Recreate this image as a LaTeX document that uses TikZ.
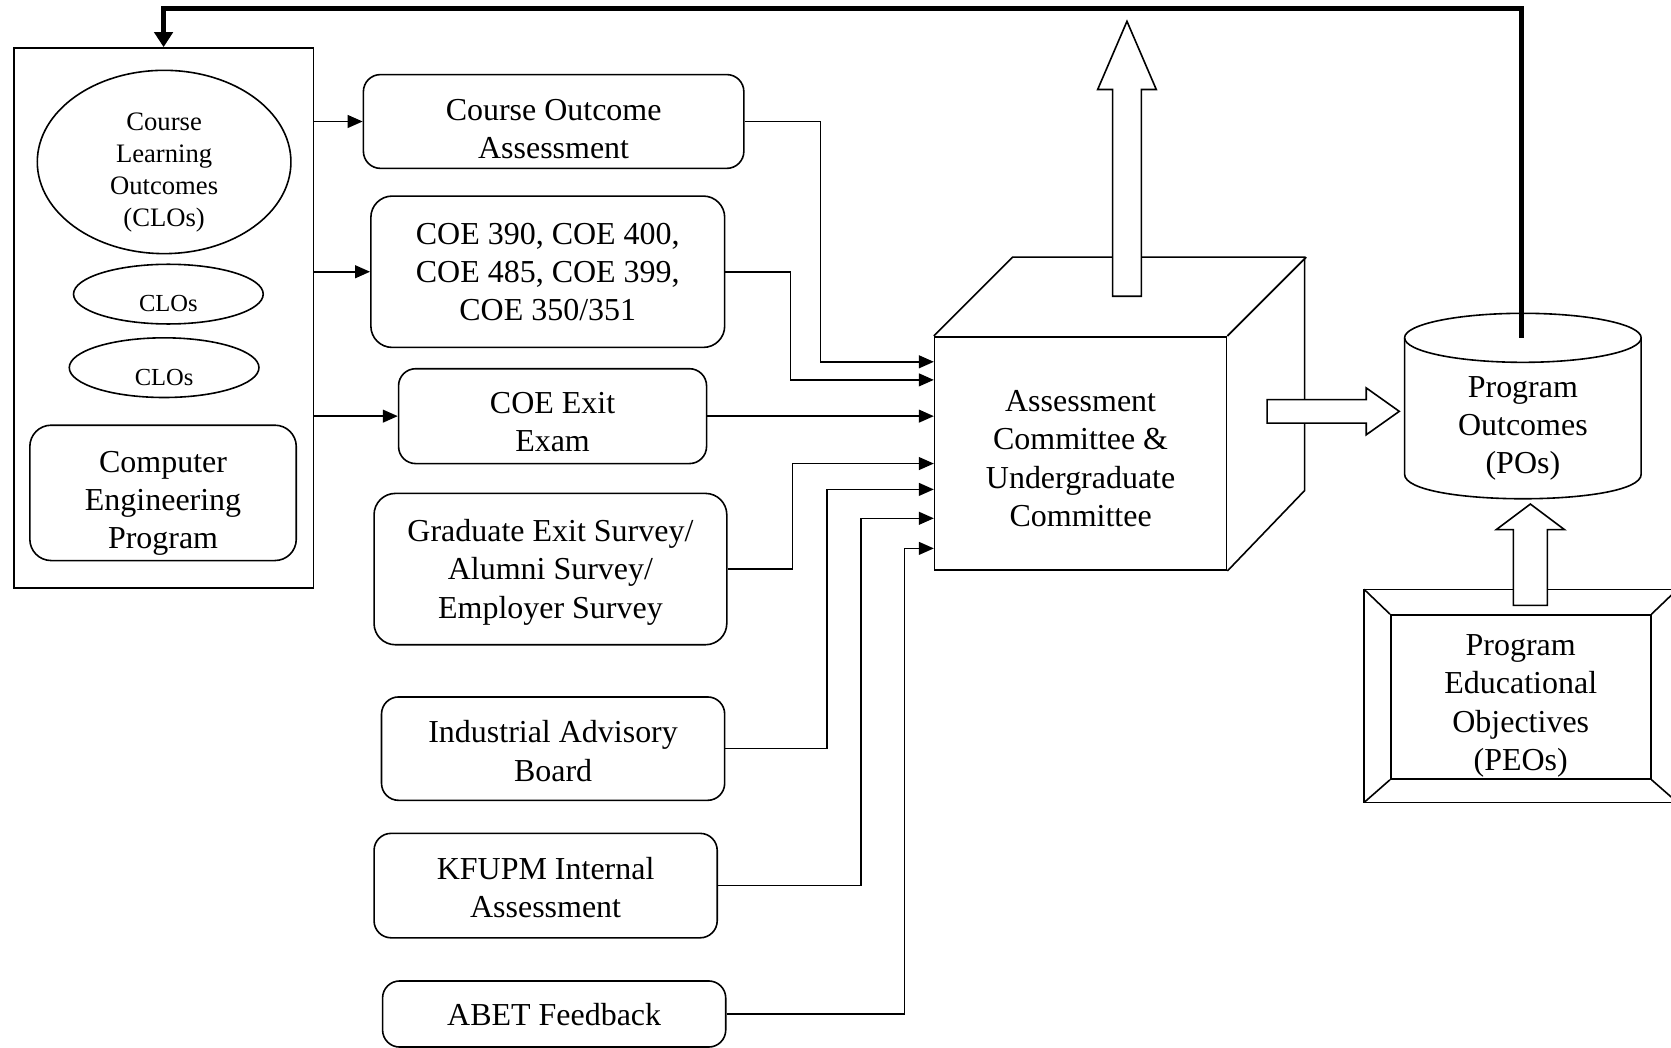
\documentclass[tikz,border=0pt]{standalone}
\usepackage{fontspec}
\setmainfont{Liberation Serif}
\usetikzlibrary{arrows.meta,shapes.geometric,calc}
\newcommand\diagmain{\fontsize{15}{18}\selectfont}
\newcommand\diagsmall{\fontsize{12.5}{15}\selectfont}
\newcommand\diagtiny{\fontsize{11.5}{14}\selectfont}
\newcommand\dgtop[1]{\rule{0pt}{#1pt}}
\newcommand\dgbot[1]{\rule[-#1pt]{0pt}{#1pt}}
\begin{document}
\begin{tikzpicture}[x=0.5pt,y=-0.5pt,line width=0.75pt,
  box/.style={draw, rounded corners=8pt, align=center, inner sep=0pt, font=\diagmain},
  plain/.style={draw, inner sep=0pt, align=center, font=\diagmain},
  cloell/.style={draw, ellipse, inner sep=0pt, font=\diagtiny, text height=16.5pt, text depth=0pt},
  arr/.style={-{Triangle[length=7pt,width=6pt]}},
  fb/.style={line width=2.2pt, -{Triangle[length=7pt,width=8.5pt]}},
  blockarrow/.style={draw, fill=white, line join=miter}]
\useasboundingbox (0,0) rectangle (1568,983);

% left program box
\node[draw, minimum width=140.5pt, minimum height=253.5pt, inner sep=0pt] (lbox) at (153.5,298.5) {};
\node[draw, ellipse, minimum width=119pt, minimum height=86pt, inner sep=-5pt, align=center, font=\diagsmall] (clo) at (154,152) {\dgtop{18.7}Course\\Learning\\Outcomes\\(CLOs)\dgbot{3.5}};
\node[cloell, minimum width=89pt, minimum height=28pt] (clo2) at (158,276) {CLOs};
\node[cloell, minimum width=89pt, minimum height=28pt] (clo3) at (154,345) {CLOs};
\node[box, minimum width=125pt, minimum height=63.5pt, rounded corners=10pt] (cep) at (153,462.5) {\dgtop{20.5}Computer\\Engineering\\Program\dgbot{4}};

% input boxes
\node[box, minimum width=178.5pt, minimum height=44pt] (b1) at (519.5,114) {\dgtop{21}Course Outcome\\Assessment\dgbot{4}};
\node[box, minimum width=166pt, minimum height=71pt, rounded corners=10pt] (b2) at (514,255) {\dgtop{14}COE 390, COE 400,\\COE 485, COE 399,\\COE 350/351\dgbot{4}};
\node[box, minimum width=144.5pt, minimum height=44.5pt] (b3) at (518.5,390.5) {\dgtop{19.5}COE Exit\\Exam\dgbot{4}};
\node[box, minimum width=165.5pt, minimum height=71pt, rounded corners=10pt] (b4) at (516.5,534) {\dgtop{14}Graduate Exit Survey/\\Alumni Survey/\\Employer Survey\dgbot{4}};
\node[box, minimum width=161pt, minimum height=48.5pt] (b5) at (519,702.5) {\dgtop{16.5}Industrial Advisory\\Board\dgbot{4}};
\node[box, minimum width=161pt, minimum height=49pt] (b6) at (512,831) {\dgtop{16}KFUPM Internal\\Assessment\dgbot{4}};
\node[box, minimum width=161pt, minimum height=31pt] (b7) at (520,951.5) {\dgtop{14.5}ABET Feedback\dgbot{4}};

% cube
\node[plain, minimum width=137pt, minimum height=109.5pt] (cubeF) at (1014,425.5) {\dgtop{18.5}Assessment\\Committee \&\\Undergraduate\\Committee\dgbot{4}};
\draw (cubeF.north west) -- ++(74,-74) -- ++(274,0) -- ++(0,219) -- (cubeF.south east);
\draw (cubeF.north east) -- ++(74,-74);

% block arrows from cube
\draw[blockarrow] (1044,278) -- (1044,84) -- (1030,84) -- (1057.5,20) -- (1085,84) -- (1071,84) -- (1071,278) -- cycle;
\draw[blockarrow] (1189,375) -- (1282,375) -- (1282,364) -- (1313,386) -- (1282,408) -- (1282,397) -- (1189,397) -- cycle;

% program outcomes cylinder
\draw[fill=white] (1318,317) -- (1318,445) .. controls (1318,475.7) and (1540,475.7) .. (1540,445) -- (1540,317);
\draw (1429,317) ellipse [x radius=55.5pt, y radius=11.5pt];
\node[align=center, font=\diagmain] (po) at (1429,402) {Program\\Outcomes\\(POs)};
\coordinate (potop) at (1428,317);

% PEO frame
\node[plain, minimum width=122pt, minimum height=75pt] (peo) at (1427,654) {\dgtop{19}Program\\Educational\\Objectives\\(PEOs)\dgbot{4}};
\coordinate (po1) at (1280,553);
\coordinate (po2) at (1574,553);
\coordinate (po3) at (1574,753);
\coordinate (po4) at (1280,753);
\draw (po1) -- (po2) -- (po3) -- (po4) -- cycle;
\draw (po1) -- (peo.north west) (po2) -- (peo.north east) (po3) -- (peo.south east) (po4) -- (peo.south west);
\draw[blockarrow] (1420,568) -- (1420,497) -- (1404,497) -- (1436,473) -- (1468,497) -- (1452,497) -- (1452,568) -- cycle;

% connectors from program box
\draw[arr] (lbox.east |- b1.west) -- (b1.west);
\draw[arr] (lbox.east |- b2.west) -- (b2.west);
\draw[arr] (lbox.east |- b3.west) -- (b3.west);

% connectors into cube
\draw[arr] (b1.east) -- ++(71,0) |- ($(cubeF.north west)!0.110!(cubeF.south west)$);
\draw[arr] (b2.east) -- ++(61,0) |- ($(cubeF.north west)!0.187!(cubeF.south west)$);
\draw[arr] (b3.east) -- (b3.east -| cubeF.west);
\draw[arr] (b4.east) -- ++(61,0) |- ($(cubeF.north west)!0.543!(cubeF.south west)$);
\draw[arr] (b5.east) -- ++(95,0) |- ($(cubeF.north west)!0.653!(cubeF.south west)$);
\draw[arr] (b6.east) -- ++(134,0) |- ($(cubeF.north west)!0.776!(cubeF.south west)$);
\draw[arr] (b7.east) -- ++(167,0) |- ($(cubeF.north west)!0.904!(cubeF.south west)$);

% feedback loop
\draw[fb] (potop) -- ++(0,-309) -| (lbox.north);
\end{tikzpicture}
\end{document}
